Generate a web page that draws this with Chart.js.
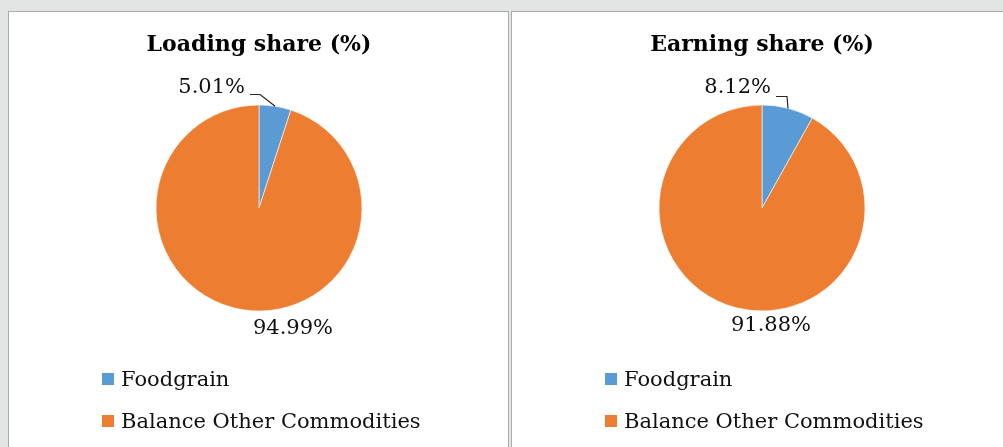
<!DOCTYPE html>
<html>
<head>
<meta charset="utf-8">
<script src="https://cdn.jsdelivr.net/npm/chart.js@4/dist/chart.umd.min.js"></script>
<style>
  html, body { margin: 0; padding: 0; }
  body { width: 1003px; height: 447px; overflow: hidden; background: #e2e5e4; position: relative; }
  .panel { position: absolute; top: 11px; height: 460px; background: #fff; border: 1px solid #a9abab; }
  #p1 { left: 8px; width: 499px; }
  #p2 { left: 511px; width: 510px; }
  canvas { position: absolute; top: 0; left: 0; }
</style>
</head>
<body>
<div class="panel" id="p1"><canvas id="loadChart" width="499" height="435"></canvas></div>
<div class="panel" id="p2"><canvas id="earnChart" width="499" height="435"></canvas></div>
<script>
/* ---- DATA ---- */
const categories = ['Foodgrain', 'Balance Other Commodities'];
const loadingShare = [5.01, 94.99];
const earningShare = [8.12, 91.88];
const sliceColors = ['#5b9bd5', '#ed7d31'];

const SERIF = '"DejaVu Serif", "Liberation Serif", serif';

/* ---- pct labels with leader line for small slice ---- */
const pctLabels = {
  id: 'pctLabels',
  afterDatasetsDraw(chart, args, opts) {
    const ctx = chart.ctx;
    const meta = chart.getDatasetMeta(0);
    const vals = chart.data.datasets[0].data;
    ctx.save();
    ctx.font = '21px ' + SERIF;
    ctx.fillStyle = '#111';
    ctx.textBaseline = 'middle';
    meta.data.forEach((arc, i) => {
      const p = arc.getProps(['x', 'y', 'startAngle', 'endAngle', 'outerRadius'], true);
      const pos = opts.positions[i];
      const text = vals[i].toFixed(2) + '%';
      const tx = p.x + pos.dx, ty = p.y + pos.dy;
      ctx.textAlign = pos.align;
      ctx.fillText(text, tx, ty);
      if (pos.leader) {
        const mid = (p.startAngle + p.endAngle) / 2;
        const ex = p.x + Math.cos(mid) * p.outerRadius;
        const ey = p.y + Math.sin(mid) * p.outerRadius;
        const ly = ty + pos.leader.drop;
        ctx.beginPath();
        ctx.strokeStyle = '#262626';
        ctx.lineWidth = 1.2;
        ctx.moveTo(tx + pos.leader.gap, ly + 0.5);
        ctx.lineTo(tx + pos.leader.run, ly + 0.5);
        ctx.lineTo(ex, ey);
        ctx.stroke();
      }
    });
    ctx.restore();
  }
};

/* ---- vertical legend under the pie ---- */
const sideLegend = {
  id: 'sideLegend',
  afterDraw(chart, args, opts) {
    const ctx = chart.ctx;
    const ds = chart.data.datasets[0];
    ctx.save();
    ctx.font = '21px ' + SERIF;
    ctx.textAlign = 'left';
    ctx.textBaseline = 'alphabetic';
    chart.data.labels.forEach((lab, i) => {
      const y = opts.top + i * opts.step;
      ctx.fillStyle = ds.backgroundColor[i];
      ctx.fillRect(opts.left, y, 12, 12);
      ctx.fillStyle = '#111';
      ctx.fillText(lab, opts.left + 19, y + 13);
    });
    ctx.restore();
  }
};

function makePie(id, title, values, positions) {
  return new Chart(document.getElementById(id), {
    type: 'pie',
    data: {
      labels: categories,
      datasets: [{
        data: values,
        backgroundColor: sliceColors,
        borderColor: '#ffffff',
        borderWidth: 0.6,
        radius: 103
      }]
    },
    options: {
      responsive: false,
      animation: false,
      layout: { padding: { top: 0, bottom: 136, left: 1, right: 0 } },
      plugins: {
        legend: { display: false },
        tooltip: { enabled: false },
        title: {
          display: true,
          text: title,
          color: '#000',
          font: { family: SERIF, size: 22, weight: 'bold', lineHeight: 1.2 },
          padding: { top: 20, bottom: 46.6 }
        },
        pctLabels: { positions: positions },
        sideLegend: { left: 93, top: 361, step: 42 }
      }
    },
    plugins: [pctLabels, sideLegend]
  });
}

makePie('loadChart', 'Loading share (%)', loadingShare, [
  { dx: -14, dy: -120, align: 'right', leader: { gap: 5, run: 15, drop: 6 } },
  { dx: 34, dy: 121, align: 'center' }
]);

makePie('earnChart', 'Earning share (%)', earningShare, [
  { dx: 9, dy: -120, align: 'right', leader: { gap: 5, run: 16, drop: 8 } },
  { dx: 9, dy: 118, align: 'center' }
]);
</script>
</body>
</html>
